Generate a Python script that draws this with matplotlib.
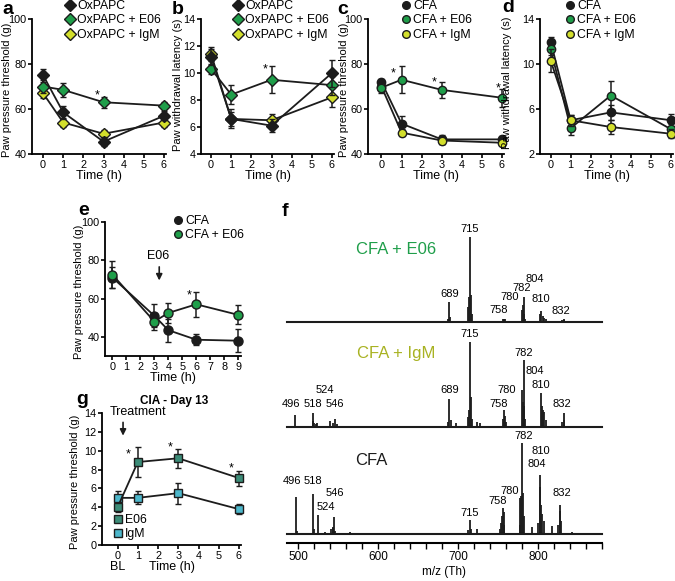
import matplotlib
matplotlib.use("Agg")
import matplotlib.pyplot as plt
from matplotlib.lines import Line2D
from matplotlib.ticker import MultipleLocator, FixedLocator

plt.rcParams['font.family'] = ['Liberation Sans', 'DejaVu Sans']
plt.rcParams['font.size'] = 9

W, H = 675, 581

BLACK = '#1c1c1c'
GREEN = '#1f9e4a'
YELLOW = '#d3df2c'
TEAL_DARK = '#3c8c78'
TEAL_LIGHT = '#4db7cb'
OLIVE_TEXT = '#a8b222'

# ---- panels a-d: time course (h) ----
t_abcd = [0, 1, 3, 6]

a_ox = [75, 58.5, 45.5, 57]
a_ox_err = [3, 3, 2, 2]
a_e06 = [70, 68.5, 63, 61.5]
a_e06_err = [3, 3, 2.5, 1.5]
a_igm = [67, 54, 49, 54]
a_igm_err = [2, 2, 1.5, 2]

b_ox = [11.2, 6.6, 6.1, 10.0]
b_ox_err = [0.6, 0.7, 0.5, 1.0]
b_e06 = [10.3, 8.4, 9.5, 9.1]
b_e06_err = [0.4, 0.7, 1.0, 0.7]
b_igm = [11.4, 6.6, 6.5, 8.2]
b_igm_err = [0.5, 0.5, 0.5, 0.7]

c_cfa = [72, 53.5, 46.5, 46.5]
c_cfa_err = [1.5, 3.5, 2, 1.5]
c_e06 = [69.5, 73, 68.5, 65]
c_e06_err = [2.5, 6, 3.5, 4]
c_igm = [70, 49.5, 46, 45]
c_igm_err = [2, 1.5, 1.5, 1]

d_cfa = [12.0, 5.0, 5.7, 5.0]
d_cfa_err = [0.4, 0.5, 0.7, 0.6]
d_e06 = [11.3, 4.3, 7.2, 4.2]
d_e06_err = [0.5, 0.6, 1.3, 0.5]
d_igm = [10.3, 5.0, 4.4, 3.8]
d_igm_err = [1.0, 0.5, 0.6, 0.4]

# ---- panel e ----
t_e = [0, 3, 4, 6, 9]
e_cfa = [71, 51, 43.5, 38.5, 38]
e_cfa_err = [5.5, 6, 6, 3, 6]
e_e06 = [72.5, 48, 52.5, 57, 51.5]
e_e06_err = [7, 4.5, 5, 6.5, 5]

# ---- panel g ----
t_g = [0, 1, 3, 6]
g_e06 = [4.0, 8.8, 9.2, 7.1]
g_e06_err = [0.5, 1.6, 1.0, 0.8]
g_igm = [5.0, 5.0, 5.5, 3.8]
g_igm_err = [0.7, 0.7, 1.1, 0.5]

# ---- panel f: mass spectra (m/z, relative intensity) ----
e06_mz = [536, 550, 687, 689, 690, 713, 714, 715, 716, 717, 756, 758, 759,
          780, 781, 782, 783, 784, 803, 804, 806, 808, 810, 830, 832, 833]
e06_int = [1, 1.5, 4, 24, 6, 18, 30, 100, 32, 10, 3, 4, 3,
           14, 20, 29, 10, 4, 9, 13, 7, 5, 3, 2, 4, 2]

igm_mz = [496, 518, 519, 520, 522, 524, 540, 544, 546, 548, 687, 689, 691,
          697, 713, 714, 715, 716, 717, 724, 728, 756, 758, 759, 760, 780,
          781, 782, 783, 784, 804, 805, 806, 808, 810, 830, 832, 833]
igm_int = [14, 16, 7, 5, 3, 5, 7, 5, 9, 3, 6, 33, 8,
           5, 12, 20, 100, 35, 10, 6, 5, 10, 20, 13, 6, 43,
           30, 79, 25, 10, 40, 25, 20, 18, 8, 6, 16, 8]

cfa_mz = [497, 498, 519, 520, 525, 533, 541, 543, 544, 545, 546, 565, 689,
          713, 715, 716, 724, 752, 754, 755, 756, 757, 758, 777, 778, 779, 780,
          781, 782, 793, 800, 802, 803, 804, 805, 807, 818, 825, 827, 828, 829, 843]
cfa_int = [41, 3, 44, 5, 21, 2, 5, 7, 8, 19, 3, 2, 1,
           4, 15, 5, 6, 6, 12, 20, 29, 24, 10, 10, 40, 42, 100,
           45, 20, 8, 12, 65, 52, 32, 22, 14, 9, 10, 32, 25, 14, 2]

e06_labels = [('715', 715, 109), ('689', 689, 33), ('758', 751, 14), ('780', 765, 29),
              ('782', 780, 40), ('804', 796, 51), ('810', 803, 27), ('832', 829, 13)]
igm_labels = [('715', 715, 109), ('782', 782, 87), ('804', 796, 66), ('810', 803, 50),
              ('780', 761, 43), ('758', 751, 27), ('689', 690, 43), ('524', 533, 44),
              ('496', 491, 27), ('518', 519, 27), ('546', 546, 27), ('832', 830, 27)]
cfa_labels = [('782', 782, 108), ('810', 803, 91), ('804', 798, 77), ('780', 765, 47),
              ('758', 750, 36), ('715', 715, 23), ('832', 830, 45), ('496', 492, 58),
              ('518', 519, 58), ('546', 546, 45), ('524', 534, 30)]

fig = plt.figure(figsize=(W / 100, H / 100), dpi=100)


def px_axes(left, top, right, bottom):
    return fig.add_axes([left / W, 1 - bottom / H, (right - left) / W, (bottom - top) / H])


def style(ax):
    for s in ['top', 'right']:
        ax.spines[s].set_visible(False)
    for s in ['left', 'bottom']:
        ax.spines[s].set_linewidth(1.3)
    ax.tick_params(direction='out', length=3, width=1.2, labelsize=7.8, pad=1)


def series(ax, t, y, err, color, marker, ms=6.5, z=3):
    ax.errorbar(t, y, yerr=err, color=BLACK, lw=1.3, marker=marker, ms=ms,
                mfc=color, mec=BLACK, mew=1.0, ecolor=BLACK, elinewidth=1.1,
                capsize=2, capthick=1.1, zorder=z, clip_on=False)


def legend(ax, labels, colors, marker, left, top, ms=6.5):
    handles = [Line2D([], [], ls='none', marker=marker, ms=ms, mfc=c, mec=BLACK, mew=1.0)
               for c in colors]
    ax.legend(handles, labels, loc='upper left', bbox_to_anchor=(left / W, 1 - top / H),
              bbox_transform=fig.transFigure, frameon=False, handlelength=0.6,
              handletextpad=0.3, labelspacing=0.2, borderpad=0, borderaxespad=0,
              fontsize=8.8)


def letter(x, y, s):
    fig.text(x / W, 1 - y / H, s, fontsize=14, fontweight='bold', va='center', ha='left')


def ylab(ax, text, right_px, shift_px=3):
    # right_px: right edge of the rotated label, in figure pixels
    ax.set_ylabel(text, fontsize=8)
    bb = ax.get_position()
    ax.yaxis.set_label_coords(right_px / W, (bb.y0 + bb.y1) / 2 - shift_px / H,
                              transform=fig.transFigure)


def time_axis(ax, ylim, yticks, ylabel, label_px, xlim=(-0.55, 6.1), shift_px=3):
    style(ax)
    ax.set_xlim(*xlim)
    ax.set_ylim(*ylim)
    ax.set_yticks(yticks)
    ax.set_xticks(range(0, 7))
    ax.set_xlabel('Time (h)', fontsize=9, labelpad=0)
    ylab(ax, ylabel, label_px, shift_px)


# a
ax = px_axes(32, 19, 166, 154)
time_axis(ax, (40, 100), [40, 60, 80, 100], 'Paw pressure threshold (g)', 12)
series(ax, t_abcd, a_igm, a_igm_err, YELLOW, 'D', z=3)
series(ax, t_abcd, a_e06, a_e06_err, GREEN, 'D', z=4)
series(ax, t_abcd, a_ox, a_ox_err, BLACK, 'D', z=5)
ax.text(2.7, 66, '*', ha='center', va='center', fontsize=9)
legend(ax, ['OxPAPC', 'OxPAPC + E06', 'OxPAPC + IgM'], [BLACK, GREEN, YELLOW], 'D', 66, 0, ms=6)
letter(2, 9, 'a')

# b
ax = px_axes(201, 19, 334, 154)
time_axis(ax, (4, 14), [4, 6, 8, 10, 12, 14], 'Paw withdrawal latency (s)', 183,
          xlim=(-0.5, 6.1), shift_px=-2)
series(ax, t_abcd, b_igm, b_igm_err, YELLOW, 'D', z=3)
series(ax, t_abcd, b_e06, b_e06_err, GREEN, 'D', z=4)
series(ax, t_abcd, b_ox, b_ox_err, BLACK, 'D', z=5)
ax.text(2.7, 10.3, '*', ha='center', va='center', fontsize=9)
legend(ax, ['OxPAPC', 'OxPAPC + E06', 'OxPAPC + IgM'], [BLACK, GREEN, YELLOW], 'D', 234, 0, ms=6)
letter(172, 9, 'b')

# c
ax = px_axes(368, 19, 504, 154)
time_axis(ax, (40, 100), [40, 60, 80, 100], 'Paw pressure threshold (g)', 349,
          xlim=(-0.67, 6.1))
series(ax, t_abcd, c_cfa, c_cfa_err, BLACK, 'o', ms=6, z=3)
series(ax, t_abcd, c_igm, c_igm_err, YELLOW, 'o', ms=6, z=4)
series(ax, t_abcd, c_e06, c_e06_err, GREEN, 'o', ms=6, z=5)
for x, y in [(0.6, 76), (2.6, 72), (5.8, 69)]:
    ax.text(x, y, '*', ha='center', va='center', fontsize=9)
legend(ax, ['CFA', 'CFA + E06', 'CFA + IgM'], [BLACK, GREEN, YELLOW], 'o', 402, 0, ms=5.5)
letter(337, 9, 'c')

# d
ax = px_axes(540, 19, 673, 154)
time_axis(ax, (2, 14), [2, 6, 10, 14], 'Paw withdrawal latency (s)', 512,
          xlim=(-0.53, 6.1), shift_px=-4)
series(ax, t_abcd, d_cfa, d_cfa_err, BLACK, 'o', ms=6, z=3)
series(ax, t_abcd, d_e06, d_e06_err, GREEN, 'o', ms=6, z=4)
series(ax, t_abcd, d_igm, d_igm_err, YELLOW, 'o', ms=6, z=5)
legend(ax, ['CFA', 'CFA + E06', 'CFA + IgM'], [BLACK, GREEN, YELLOW], 'o', 566, 0, ms=5.5)
letter(502, 8, 'd')

# e
ax = px_axes(105, 222, 241, 356)
style(ax)
ax.set_xlim(-0.53, 9.2)
ax.set_ylim(30, 100)
ax.set_yticks([40, 60, 80, 100])
ax.set_xticks(range(0, 10))
ax.set_xlabel('Time (h)', fontsize=9, labelpad=0)
ylab(ax, 'Paw pressure threshold (g)', 84)
series(ax, t_e, e_cfa, e_cfa_err, BLACK, 'o', ms=6.5, z=3)
series(ax, t_e, e_e06, e_e06_err, GREEN, 'o', ms=6.5, z=4)
ax.text(5.5, 61.5, '*', ha='center', va='center', fontsize=9)
ax.annotate('', xy=(3.35, 68), xytext=(3.35, 78),
            arrowprops=dict(arrowstyle='-|>', color=BLACK, lw=1.2, mutation_scale=9))
ax.text(3.3, 82, 'E06', ha='center', va='center', fontsize=9)
legend(ax, ['CFA', 'CFA + E06'], [BLACK, GREEN], 'o', 174, 215, ms=5.5)
letter(78, 210, 'e')

# g
ax = px_axes(102, 413, 241, 545)
style(ax)
ax.set_xlim(-0.77, 6.1)
ax.set_ylim(0, 14)
ax.set_yticks(range(0, 15, 2))
ax.set_xticks(range(0, 7))
ax.set_xlabel('Time (h)', fontsize=9, labelpad=0)
ylab(ax, 'Paw pressure threshold (g)', 80)
ax.text(0, -0.12, 'BL', transform=ax.get_xaxis_transform(), ha='center', va='top', fontsize=9)
series(ax, t_g, g_igm, g_igm_err, TEAL_LIGHT, 's', ms=6, z=3)
series(ax, t_g, g_e06, g_e06_err, TEAL_DARK, 's', ms=6, z=4)
for x, y in [(0.5, 9.6), (2.6, 10.4), (5.6, 8.1)]:
    ax.text(x, y, '*', ha='center', va='center', fontsize=9)
ax.annotate('', xy=(0.27, 11.3), xytext=(0.27, 13.3),
            arrowprops=dict(arrowstyle='-|>', color=BLACK, lw=1.2, mutation_scale=9))
ax.text(1.0, 14.1, 'Treatment', ha='center', va='center', fontsize=9)
fig.text(174 / W, 1 - 401 / H, 'CIA - Day 13', fontsize=8.5, fontweight='bold',
         ha='center', va='center')
legend(ax, ['E06', 'IgM'], [TEAL_DARK, TEAL_LIGHT], 's', 114, 514, ms=5.5)
letter(76, 400, 'g')

# f: stacked spectra
spectra = [
    (237, 322, e06_mz, e06_int, e06_labels, 'CFA + E06', GREEN, 623, 85),
    (342, 427, igm_mz, igm_int, igm_labels, 'CFA + IgM', OLIVE_TEXT, 623, 87),
    (443, 534, cfa_mz, cfa_int, cfa_labels, 'CFA', BLACK, 592, 81),
]
for i, (top, bottom, mz, inten, labels, name, col, nx, ny) in enumerate(spectra):
    ax = px_axes(287, top, 602, bottom)
    ax.set_xlim(486, 880)
    ax.set_ylim(0, 100)
    ax.set_facecolor('none')
    ax.vlines(mz, 0, inten, color=BLACK, lw=1.3, clip_on=False)
    ax.axhline(0, color=BLACK, lw=1.5, clip_on=False)
    for s, x, y in labels:
        ax.text(x, y, s, ha='center', va='center', fontsize=8)
    ax.text(nx, ny, name, color=col, ha='center', va='center', fontsize=12)
    for s in ['top', 'right', 'left']:
        ax.spines[s].set_visible(False)
    ax.set_yticks([])
    if i < 2:
        ax.spines['bottom'].set_visible(False)
        ax.set_xticks([])
    else:
        ax.spines['bottom'].set_position(('outward', 6.5))
        ax.spines['bottom'].set_linewidth(1.5)
        ax.xaxis.set_major_locator(FixedLocator([500, 600, 700, 800]))
        ax.xaxis.set_minor_locator(MultipleLocator(20))
        ax.tick_params(axis='x', which='both', direction='out', length=4, width=1.0,
                       labelsize=8.5, pad=2)
        ax.set_xlabel('m/z (Th)', fontsize=8.5, labelpad=2)
letter(282, 212, 'f')

fig.savefig('out.png', dpi=100)
